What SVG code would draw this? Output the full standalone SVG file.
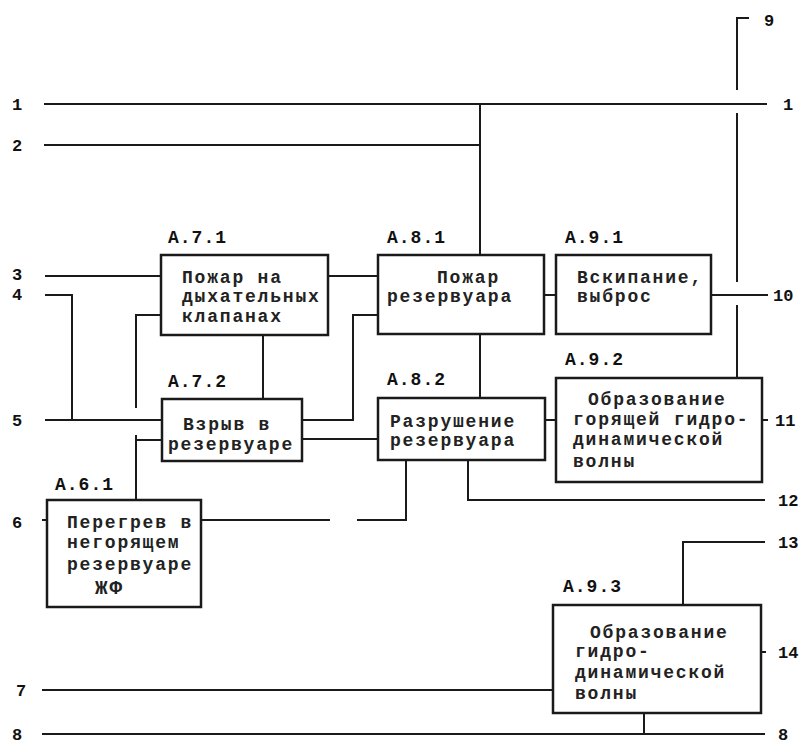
<svg xmlns="http://www.w3.org/2000/svg" width="810" height="753" viewBox="0 0 810 753">
<style>
.box{fill:#fff;stroke:#1a1a1a;stroke-width:2.5}
.ln{fill:none;stroke:#1a1a1a;stroke-width:2}
.t{font-family:"Liberation Mono","DejaVu Sans Mono",monospace;font-size:18px;letter-spacing:1.8px;fill:#222;font-weight:bold}
.lb{font-family:"Liberation Mono","DejaVu Sans Mono",monospace;font-size:18px;letter-spacing:1px;fill:#111;font-weight:bold}
.n{font-family:"Liberation Mono","DejaVu Sans Mono",monospace;font-size:17px;fill:#111;font-weight:bold}
</style>
<rect width="810" height="753" fill="#fff"/>
<g id="connectors">
<polyline class="ln" points="44,104 767,104"/>
<polyline class="ln" points="44,145 480,145"/>
<polyline class="ln" points="480,104 480,255"/>
<polyline class="ln" points="749,18 737,18 737,90"/>
<polyline class="ln" points="737,113 737,282"/>
<polyline class="ln" points="737,305 737,378"/>
<polyline class="ln" points="45,276 161,276"/>
<polyline class="ln" points="45,295 72,295 72,420"/>
<polyline class="ln" points="45,420 162,420"/>
<polyline class="ln" points="161,315 136,315 136,408"/>
<polyline class="ln" points="162,440 136,440"/>
<polyline class="ln" points="136,435 136,500"/>
<polyline class="ln" points="263,335 263,399"/>
<polyline class="ln" points="328,276 378,276"/>
<polyline class="ln" points="302,420 353,420 353,315 378,315"/>
<polyline class="ln" points="302,439 378,439"/>
<polyline class="ln" points="544,295 556,295"/>
<polyline class="ln" points="480,334 480,398"/>
<polyline class="ln" points="545,420 556,420"/>
<polyline class="ln" points="711,295 768,295"/>
<polyline class="ln" points="762,420 768,420"/>
<polyline class="ln" points="42,520 47,520"/>
<polyline class="ln" points="201,520 330,520"/>
<polyline class="ln" points="357,520 406,520 406,460"/>
<polyline class="ln" points="468,460 468,500 765,500"/>
<polyline class="ln" points="683,605 683,542 765,542"/>
<polyline class="ln" points="761,652 766,652"/>
<polyline class="ln" points="42,690 553,690"/>
<polyline class="ln" points="42,734 765,734"/>
<polyline class="ln" points="644,713 644,734"/>
</g>
<g id="A71">
<rect class="box" x="161" y="255" width="167" height="80"/>
<text class="lb" x="168" y="243">А.7.1</text>
<text class="t" x="182" y="283">Пожар на</text>
<text class="t" x="182" y="302">дыхательных</text>
<text class="t" x="182" y="322">клапанах</text>
</g>
<g id="A72">
<rect class="box" x="162" y="399" width="140" height="62"/>
<text class="lb" x="168" y="387">А.7.2</text>
<text class="t" x="183" y="430">Взрыв в</text>
<text class="t" x="168" y="450">резервуаре</text>
</g>
<g id="A81">
<rect class="box" x="378" y="255" width="166" height="79"/>
<text class="lb" x="387" y="243">А.8.1</text>
<text class="t" x="437" y="283">Пожар</text>
<text class="t" x="387" y="302">резервуара</text>
</g>
<g id="A91">
<rect class="box" x="556" y="255" width="155" height="79"/>
<text class="lb" x="565" y="243">А.9.1</text>
<text class="t" x="577" y="283">Вскипание,</text>
<text class="t" x="577" y="302">выброс</text>
</g>
<g id="A82">
<rect class="box" x="378" y="398" width="167" height="62"/>
<text class="lb" x="387" y="385">А.8.2</text>
<text class="t" x="390" y="427">Разрушение</text>
<text class="t" x="390" y="446">резервуара</text>
</g>
<g id="A92">
<rect class="box" x="556" y="378" width="206" height="104"/>
<text class="lb" x="565" y="365">А.9.2</text>
<text class="t" x="588" y="405">Образование</text>
<text class="t" x="573" y="425">горящей гидро-</text>
<text class="t" x="573" y="445">динамической</text>
<text class="t" x="573" y="467">волны</text>
</g>
<g id="A61">
<rect class="box" x="47" y="500" width="154" height="107"/>
<text class="lb" x="55" y="490">А.6.1</text>
<text class="t" x="67" y="528">Перегрев в</text>
<text class="t" x="67" y="548">негорящем</text>
<text class="t" x="67" y="570">резервуаре</text>
<text class="t" x="95" y="594" style="font-size:21px">ЖФ</text>
</g>
<g id="A93">
<rect class="box" x="553" y="605" width="208" height="108"/>
<text class="lb" x="563" y="592">А.9.3</text>
<text class="t" x="590" y="638">Образование</text>
<text class="t" x="575" y="657">гидро-</text>
<text class="t" x="575" y="678">динамической</text>
<text class="t" x="575" y="699">волны</text>
</g>
<g id="numbers">
<text class="n" x="12" y="110">1</text>
<text class="n" x="12" y="151">2</text>
<text class="n" x="12" y="280">3</text>
<text class="n" x="12" y="300">4</text>
<text class="n" x="12" y="426">5</text>
<text class="n" x="12" y="528">6</text>
<text class="n" x="16" y="696">7</text>
<text class="n" x="12" y="740">8</text>
<text class="n" x="783" y="110">1</text>
<text class="n" x="764" y="26">9</text>
<text class="n" x="773" y="301">10</text>
<text class="n" x="775" y="426">11</text>
<text class="n" x="778" y="506">12</text>
<text class="n" x="778" y="548">13</text>
<text class="n" x="778" y="658">14</text>
<text class="n" x="778" y="740">8</text>
</g>
</svg>
